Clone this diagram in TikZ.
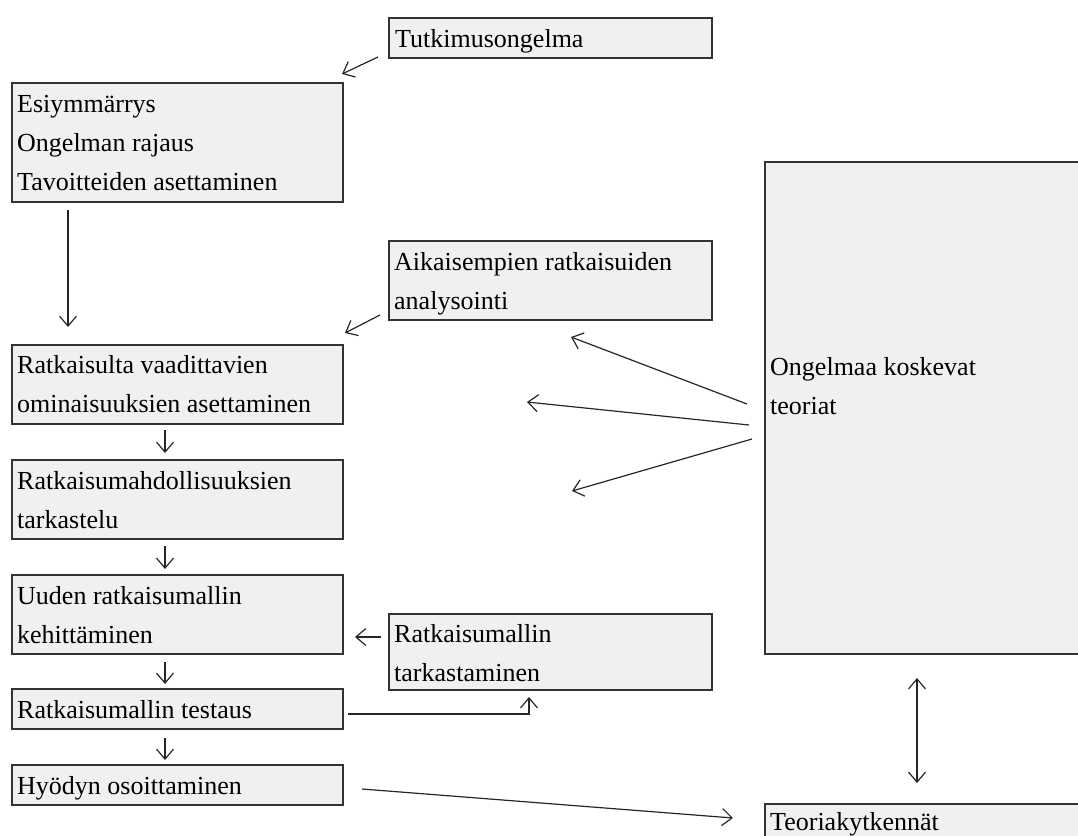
\documentclass[tikz,border=0pt]{standalone}
\usepackage{fontspec}
\setmainfont{Liberation Serif}
\usetikzlibrary{arrows.meta,calc}
\tikzset{mybarb/.tip={Straight Barb[length=10pt,width=17pt,line width=1.2pt]}}
\begin{document}
\begin{tikzpicture}[x=1pt,y=-1pt,
  box/.style={draw=black!80,line width=1.5pt,fill=black!6,rectangle,inner sep=0pt,anchor=north west},
  txt/.style={anchor=base west,inner sep=0pt,align=left,font=\fontsize{26}{39}\selectfont,text=black},
  conn/.style={draw=black!85,line width=1.2pt,-mybarb}
]
\useasboundingbox (0,0) rectangle (1078,835);
% boxes
\node[box,minimum width=323,minimum height=40] (tutk) at (388,17) {};
\node[box,minimum width=331,minimum height=119] (esi) at (11,82) {};
\node[box,minimum width=323,minimum height=79] (aik) at (388,240) {};
\node[box,minimum width=331,minimum height=79] (vaat) at (11,344) {};
\node[box,minimum width=331,minimum height=79] (mahd) at (11,459) {};
\node[box,minimum width=331,minimum height=79] (uusi) at (11,574) {};
\node[box,minimum width=323,minimum height=76] (tark) at (388,613) {};
\node[box,minimum width=331,minimum height=40] (test) at (11,688) {};
\node[box,minimum width=331,minimum height=40] (hyod) at (11,764) {};
\node[box,minimum width=330,minimum height=492] (teor) at (764,161) {};
\node[box,minimum width=330,minimum height=60] (kytk) at (764,803) {};
% texts (anchored at the baseline of the last line)
\node[txt] (tutkT) at (395,47) {Tutkimusongelma};
\node[txt] (esiT) at (17,190) {Esiymmärrys\\Ongelman rajaus\\Tavoitteiden asettaminen};
\node[txt] (aikT) at (394,309) {Aikaisempien ratkaisuiden\\analysointi};
\node[txt] (vaatT) at (17,412) {Ratkaisulta vaadittavien\\ominaisuuksien asettaminen};
\node[txt] (mahdT) at (17,528) {Ratkaisumahdollisuuksien\\tarkastelu};
\node[txt] (uusiT) at (17,643) {Uuden ratkaisumallin\\kehittäminen};
\node[txt] (tarkT) at (394,681) {Ratkaisumallin\\tarkastaminen};
\node[txt] (testT) at (17,718) {Ratkaisumallin testaus};
\node[txt] (hyodT) at (17,794) {Hyödyn osoittaminen};
\node[txt] (teorT) at (770,414) {Ongelmaa koskevat\\teoriat};
\node[txt] (kytkT) at (770,830) {Teoriakytkennät};
% connector end points
\coordinate (a1) at (378,57);   \coordinate (b1) at (342,74);
\coordinate (a2) at (68,210);   \coordinate (b2) at (68,327);
\coordinate (a3) at (380,315);  \coordinate (b3) at (345,333);
\coordinate (a4) at (165,430);  \coordinate (b4) at (165,453);
\coordinate (a5) at (165,546);  \coordinate (b5) at (165,569);
\coordinate (a6) at (165,662);  \coordinate (b6) at (165,684);
\coordinate (a7) at (165,738);  \coordinate (b7) at (165,760);
\coordinate (a8) at (381,637);  \coordinate (b8) at (355,637);
\coordinate (a9) at (348,714);  \coordinate (b9) at (529,697);
\coordinate (a10) at (362,789); \coordinate (b10) at (733,818);
\coordinate (a11) at (747,404); \coordinate (b11) at (571,337);
\coordinate (a12) at (749,425); \coordinate (b12) at (527,402);
\coordinate (a13) at (752,439); \coordinate (b13) at (572,491);
\coordinate (a14) at (917,678); \coordinate (b14) at (917,783);
% connectors
\draw[conn] (a1) -- (b1);
\draw[conn] (a2) -- (b2);
\draw[conn] (a3) -- (b3);
\draw[conn] (a4) -- (b4);
\draw[conn] (a5) -- (b5);
\draw[conn] (a6) -- (b6);
\draw[conn] (a7) -- (b7);
\draw[conn] (a8) -- (b8);
\draw[conn] (a9) -| (b9);
\draw[conn] (a10) -- (b10);
\draw[conn] (a11) -- (b11);
\draw[conn] (a12) -- (b12);
\draw[conn] (a13) -- (b13);
\draw[conn,mybarb-mybarb] (a14) -- (b14);
\end{tikzpicture}
\end{document}
